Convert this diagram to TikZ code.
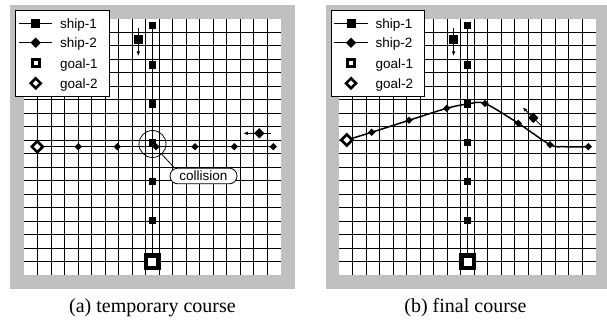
\documentclass[tikz,border=0pt]{standalone}
\usepackage{fontspec}
\setmainfont{Liberation Serif}
\newfontfamily\sansf{Liberation Sans}
\usetikzlibrary{shapes.geometric,arrows.meta,calc}
\pgfdeclarelayer{gridlayer}
\pgfdeclarelayer{linelayer}
\pgfsetlayers{gridlayer,linelayer,main}
\definecolor{framegray}{HTML}{C0C0C0}
\tikzset{
  gridline/.style={black,line width=0.75pt},
  pathline/.style={black,line width=1.2pt},
  curveline/.style={black,line width=1.5pt},
  arr/.style={black,line width=0.8pt,-{Latex[length=4.5pt,width=3.6pt]}},
  sq/.style={rectangle,fill=black,inner sep=0pt,minimum size=7.5pt},
  bigsq/.style={rectangle,fill=black,inner sep=0pt,minimum size=9pt},
  dm/.style={diamond,fill=black,inner sep=0pt,minimum size=7.5pt},
  bigdm/.style={diamond,fill=black,inner sep=0pt,minimum size=10.5pt},
  goalsq/.style={rectangle,draw=black,fill=white,line width=4.4pt,inner sep=0pt,minimum size=12.2pt},
  goaldm/.style={diamond,draw=black,fill=white,line width=2.6pt,inner sep=0pt,minimum size=12pt},
  leggoalsq/.style={rectangle,draw=black,fill=white,line width=3pt,inner sep=0pt,minimum size=7pt},
  leggoaldm/.style={diamond,draw=black,fill=white,line width=2.6pt,inner sep=0pt,minimum size=11pt},
  legbox/.style={rectangle,draw=black,fill=white,line width=0.9pt,inner sep=0pt,minimum width=93.3pt,minimum height=86.7pt},
  legtext/.style={font=\sansf\fontsize{13.5}{15}\selectfont,inner sep=0pt,anchor=west},
  colltext/.style={draw=black,fill=white,line width=0.8pt,rounded corners=7.8pt,minimum width=67pt,minimum height=15.7pt,inner sep=0pt,font=\sansf\fontsize{13.5}{15}\selectfont},
  collcirc/.style={circle,draw=black,line width=0.8pt,minimum size=27pt,inner sep=0pt},
  captext/.style={font=\fontsize{20}{24}\selectfont,inner sep=0pt},
}
\newcommand\shippanel[3]{%
  \begin{pgfonlayer}{gridlayer}
    \fill[framegray] (#2,5) rectangle (#3,289);
    \fill[white] (24,18.7) rectangle (280.5,275.2);
    \foreach \k in {1,...,18}{
      \draw[gridline] ({24+13.5*\k},18.7) -- ({24+13.5*\k},275.2);
      \draw[gridline] (24,{18.7+13.5*\k}) -- (280.5,{18.7+13.5*\k});
    }
  \end{pgfonlayer}
  \foreach \n/\y in {1/25.7,2/65,3/104,4/142.7,5/181.7,6/220.7}{\node[sq] (s\n#1) at (152.3,\y) {};}
  \node[goalsq] (gA#1) at (152.3,261.7) {};
  \begin{pgfonlayer}{linelayer}
    \draw[pathline] (s1#1.center) -- (gA#1.center);
  \end{pgfonlayer}
  \coordinate (ia#1) at (138.3,27.7);
  \coordinate (ib#1) at (138.3,56);
  \draw[arr] (ia#1) -- (ib#1);
  \node[bigsq] (is#1) at (138.3,40) {};
  \node[legbox] (leg#1) at (62.35,53.35) {};
  \coordinate (la1#1) at (19,23.3);
  \coordinate (lb1#1) at (52.3,23.3);
  \coordinate (la2#1) at (19,42.7);
  \coordinate (lb2#1) at (52.3,42.7);
  \draw[pathline] (la1#1) -- (lb1#1);
  \draw[pathline] (la2#1) -- (lb2#1);
  \node[bigsq] (lm1#1) at (35.7,23.3) {};
  \node[bigdm] (lm2#1) at (35.7,42.7) {};
  \node[leggoalsq] (lm3#1) at (35.7,63.3) {};
  \node[leggoaldm] (lm4#1) at (35.7,83.3) {};
  \node[legtext] (lt1#1) at (60,24.8) {ship-1};
  \node[legtext] (lt2#1) at (60,44.2) {ship-2};
  \node[legtext] (lt3#1) at (60,64.8) {goal-1};
  \node[legtext] (lt4#1) at (60,84.8) {goal-2};
}
\begin{document}
\begin{tikzpicture}[x=1pt,y=-1pt]
\useasboundingbox (0,0) rectangle (607,320);
% ---------------- panel (a)
\begin{scope}
  \shippanel{a}{10}{295}
  \node[goaldm] (gBa) at (37.3,146.7) {};
  \foreach \n/\x in {1/78.3,2/117.3,3/156,4/195,5/234.3,6/273.3}{\node[dm] (d\n a) at (\x,146.7) {};}
  \begin{pgfonlayer}{linelayer}
    \draw[pathline] (gBa.center) -- (d6a.center);
  \end{pgfonlayer}
  \node[sq] (s4a) at (152.3,142.7) {};
  \coordinate (ja) at (270.7,133.3);
  \coordinate (jb) at (243.3,133.3);
  \draw[arr] (ja) -- (jb);
  \node[bigdm] (ida) at (259.3,133.3) {};
  \node[collcirc] (colc) at (152.5,144) {};
  \node[colltext] (coll) at (203.5,176) {collision};
  \draw[line width=0.8pt] (colc.-48) -- ($(coll.north west)!0.07!(coll.north east)$);
\end{scope}
% ---------------- panel (b)
\begin{scope}[xshift=315.3pt]
  \shippanel{b}{10.7}{291.7}
  \node[goaldm] (gBb) at (31.4,140) {};
  \node[dm] (e1) at (56.4,132.3) {};
  \node[dm] (e2) at (93.7,120.3) {};
  \node[dm] (e3) at (131.4,108.3) {};
  \node[dm] (e4) at (169.7,103.5) {};
  \node[dm] (e5) at (203,123.3) {};
  \node[dm] (e6) at (234.7,144.7) {};
  \node[dm] (e7) at (273,146.7) {};
  \coordinate (pk) at (152.3,104);
  \coordinate (fl) at (249,146.7);
  \begin{pgfonlayer}{linelayer}
    \draw[curveline] plot[smooth,tension=0.5] coordinates {(gBb.center) (e1.center) (e2.center) (e3.center) (pk) (e4.center) (e5.center) (e6.center) (fl) (e7.center)};
  \end{pgfonlayer}
  \node[sq] at (152.3,104) {};
  \coordinate (ka) at (226.4,126);
  \coordinate (kb) at (207.4,107.3);
  \draw[arr] (ka) -- (kb);
  \node[bigdm] (idb) at (218,117.8) {};
\end{scope}
% captions
\node[captext] (capa) at (152.5,307.5) {(a) temporary course};
\node[captext] (capb) at (465.5,307.5) {(b) final course};
\end{tikzpicture}
\end{document}
